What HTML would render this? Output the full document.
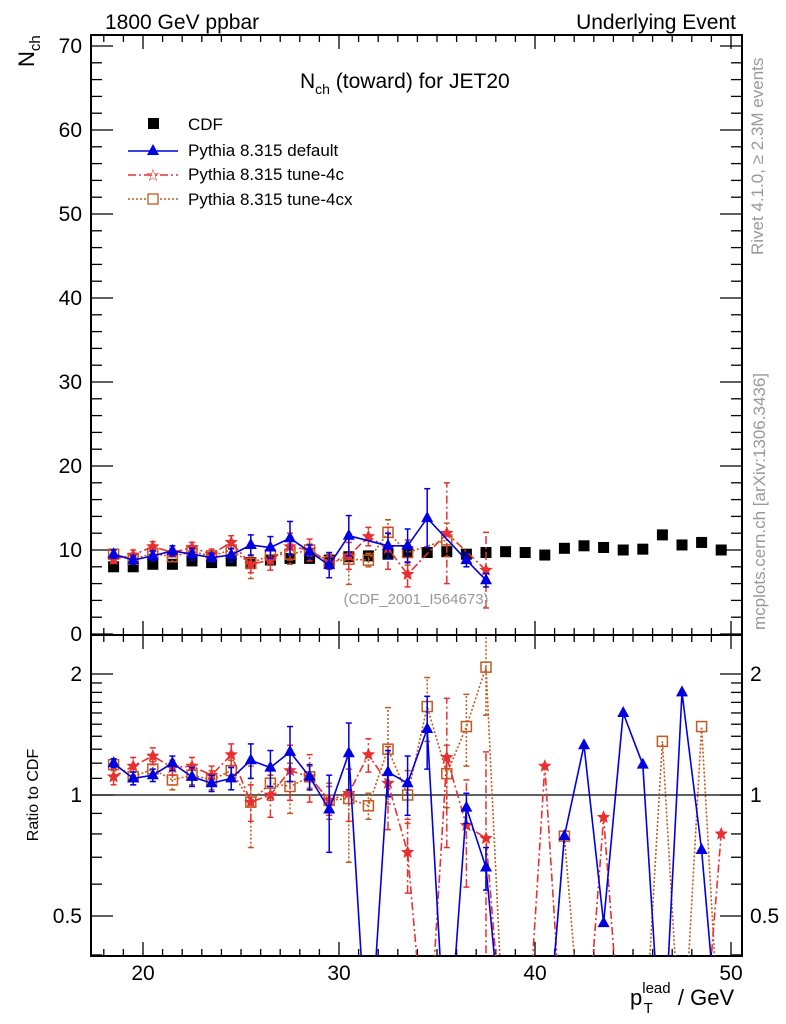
<!DOCTYPE html>
<html><head><meta charset="utf-8"><style>
html,body{margin:0;padding:0;background:#fff;overflow:hidden;}
svg{display:block;font-family:"Liberation Sans",sans-serif;}
</style></head><body>
<svg id="chart" width="786" height="1024" viewBox="0 0 786 1024">
<defs>
<clipPath id="clipMain"><rect x="91" y="35" width="651" height="600"/></clipPath>
<clipPath id="clipRatio"><rect x="91" y="635" width="651" height="321"/></clipPath>
</defs>
<g id="axes"></g>
<g id="series"></g>
<text x="105" y="29" font-size="21">1800 GeV ppbar</text>
<text x="736" y="29" font-size="21" text-anchor="end">Underlying Event</text>
<text x="300" y="88" font-size="21">N<tspan font-size="14" dy="6">ch</tspan><tspan dy="-6"> (toward) for JET20</tspan></text>
<text transform="translate(34,67) rotate(-90)" font-size="22">N<tspan font-size="15" dy="6">ch</tspan></text>
<text transform="translate(38,795) rotate(-90)" font-size="16" text-anchor="middle">Ratio to CDF</text>
<text x="630" y="1005" font-size="22">p<tspan font-size="15" dy="-12">lead</tspan><tspan font-size="15" dx="-27" dy="20">T</tspan><tspan font-size="22" dx="19" dy="-8"> / GeV</tspan></text>
<text transform="translate(763,255) rotate(-90)" font-size="17" fill="#999">Rivet 4.1.0, ≥ 2.3M events</text>
<text transform="translate(765,630) rotate(-90)" font-size="17" fill="#999">mcplots.cern.ch [arXiv:1306.3436]</text>
<text x="416" y="604" font-size="15" fill="#999" text-anchor="middle">(CDF_2001_I564673)</text>
<g id="legend">
<g><rect x="148" y="118" width="11" height="11" fill="#000"/><text x="188" y="130" font-size="17">CDF</text></g>
<g><line x1="128" y1="151" x2="178" y2="151" stroke="#0000e0" stroke-width="1.5"/><path d="M153,144 L159,155 L147,155 Z" fill="#0000e0"/><text x="188" y="156" font-size="17">Pythia 8.315 default</text></g>
<g><line x1="128" y1="175" x2="178" y2="175" stroke="#e83030" stroke-width="1.5" stroke-dasharray="8,3,2,3"/><text x="153" y="181" font-size="17" fill="#e83030" text-anchor="middle">☆</text><text x="188" y="180" font-size="17">Pythia 8.315 tune-4c</text></g>
<g><line x1="128" y1="199" x2="178" y2="199" stroke="#c05a20" stroke-width="1.5" stroke-dasharray="2,2"/><rect x="148" y="194" width="10" height="10" fill="#fff" stroke="#c05a20" stroke-width="1.3"/><text x="188" y="205" font-size="17">Pythia 8.315 tune-4cx</text></g>
</g>
</svg>
<script>
// ---- data ----
const binCenters = [18.5,19.5,20.5,21.5,22.5,23.5,24.5,25.5,26.5,27.5,28.5,29.5,30.5,31.5,32.5,33.5,34.5,35.5,36.5,37.5,38.5,39.5,40.5,41.5,42.5,43.5,44.5,45.5,46.5,47.5,48.5,49.5];
const cdfValues = [8.0,8.0,8.3,8.3,8.7,8.5,8.7,8.5,8.8,9.0,9.0,8.8,9.2,9.3,9.5,9.8,9.7,9.8,9.5,9.7,9.8,9.7,9.4,10.2,10.5,10.3,10.0,10.1,11.8,10.6,10.9,10.0];
const mcDefault = [9.5,8.8,9.3,9.9,9.5,9.1,9.4,10.6,10.3,11.4,9.8,8.2,11.7,null,10.5,10.5,13.8,null,8.8,6.4];
const mcDefaultErr = [0.5,0.5,0.6,0.6,0.7,0.5,0.8,1.2,1.3,2.0,0.8,1.5,2.4,0,1.5,2.0,3.5,0,0.8,0.8];
const mc4c = [8.9,9.4,10.4,9.7,10.3,9.5,10.9,8.3,8.8,10.4,10.0,8.5,9.3,11.6,10.2,7.1,null,12.0,null,7.6];
const mc4cErr = [0.5,0.6,0.6,0.5,0.6,0.6,0.8,1.0,1.2,1.6,1.3,0.8,1.6,1.1,2.5,1.5,0,6.0,0,4.5];
const mc4cx = [9.5,8.9,9.6,9.2,9.8,9.3,10.0,8.4,9.4,9.5,10.0,8.6,8.9,8.8,12.1,9.7,null,11.2,null,null];
const mc4cxErr = [0.5,0.5,0.5,0.6,0.6,0.6,0.7,1.8,1.0,1.2,0.7,0.9,3.0,0.8,1.5,1.5,0,2.0,0,0];
const ratioDefault = [1.20,1.10,1.12,1.20,1.11,1.07,1.10,1.22,1.17,1.28,1.11,0.92,1.27,null,1.14,1.07,1.46,null,0.93,0.66,null,null,null,0.79,1.33,0.48,1.60,1.19,null,1.80,0.73,null];
const ratioDefaultErr = [0.03,0.04,0.04,0.05,0.06,0.05,0.07,0.12,0.12,0.2,0.08,0.2,0.24,0,0.15,0.18,0.3,0,0.08,0.08,0,0,0,0,0,0,0,0,0,0,0,0];
const ratio4c = [1.11,1.18,1.25,1.17,1.18,1.12,1.26,0.96,1.00,1.15,1.11,0.97,1.01,1.26,1.07,0.72,null,1.24,0.84,0.78,null,null,1.18,null,null,0.88,null,null,null,null,null,0.80];
const ratio4cErr = [0.05,0.06,0.06,0.05,0.06,0.06,0.08,0.1,0.12,0.18,0.15,0.08,0.15,0.12,0.25,0.15,0,0.5,0.25,0.5,0,0,0,0,0,0,0,0,0,0,0,0];
const ratio4cx = [1.19,1.11,1.16,1.09,1.12,1.09,1.15,0.96,1.07,1.05,1.11,0.97,0.98,0.94,1.30,1.00,1.66,1.13,1.48,2.08,null,null,null,0.79,null,null,null,null,1.36,null,1.48,null];
const ratio4cxErr = [0.04,0.05,0.05,0.06,0.06,0.06,0.07,0.22,0.1,0.15,0.07,0.1,0.3,0.07,0.35,0.15,0.3,0.2,0.3,0.5,0,0,0,0,0,0,0,0,0,0,0,0];
const xTicks = [20,30,40,50];
const yTicks = [0,10,20,30,40,50,60,70];
const rTicks = [0.5,1,2];

// ---- axes functions ----
const X0=91,X1=742,MT=35,MB=635,RB=956;
const xs = v => 143 + (v-20)*19.6;
const ys = v => 634 - v*8.4;
const yr = r => 795 - 121*Math.log2(r);
const NS='http://www.w3.org/2000/svg';
function mk(tag, attrs, parent){
  const e=document.createElementNS(NS,tag);
  for(const k in attrs) e.setAttribute(k,attrs[k]);
  parent.appendChild(e); return e;
}
const axes=document.getElementById('axes');
const ser=document.getElementById('series');

let f=mk('rect',{x:X0,y:MT,width:X1-X0,height:MB-MT,fill:'none',stroke:'#000','stroke-width':2},axes);


f=mk('rect',{x:X0,y:MB,width:X1-X0,height:RB-MB,fill:'none',stroke:'#000','stroke-width':2},axes);



for(let v=18; v<=50; v++){
  const x=xs(v), L = (v%10===0)?14:7;
  for(const [y0,dir] of [[MT,1],[MB,-1],[MB,1],[RB,-1]]){
    mk('line',{x1:x,y1:y0,x2:x,y2:y0+dir*L,stroke:'#000','stroke-width':1.3},axes);
  }
}
xTicks.forEach(v=>{
  const t=mk('text',{x:xs(v),y:980,'font-size':21,'text-anchor':'middle'},axes);
  t.textContent=v;
  
  
});
for(let v=0; v<=70; v+=2){
  const y=ys(v), L=(v%10===0)?22:11;
  mk('line',{x1:X0,y1:y,x2:X0+L,y2:y,stroke:'#000','stroke-width':1.3},axes);
  mk('line',{x1:X1,y1:y,x2:X1-L,y2:y,stroke:'#000','stroke-width':1.3},axes);
}
yTicks.forEach(v=>{
  const t=mk('text',{x:82,y:ys(v)+7,'font-size':21,'text-anchor':'end'},axes);
  t.textContent=v;
  
  
});
const rMinor=[0.4,0.5,0.6,0.7,0.8,0.9,1,1.1,1.2,1.3,1.4,1.5,1.6,1.7,1.8,1.9,2];
rMinor.forEach(r=>{
  const y=yr(r); const L=(r===0.5||r===1||r===2)?22:11;
  if(y<MB||y>RB) return;
  mk('line',{x1:X0,y1:y,x2:X0+L,y2:y,stroke:'#000','stroke-width':1.3},axes);
  mk('line',{x1:X1,y1:y,x2:X1-L,y2:y,stroke:'#000','stroke-width':1.3},axes);
});
rTicks.forEach(r=>{
  let t=mk('text',{x:82,y:yr(r)+7,'font-size':21,'text-anchor':'end'},axes);
  t.textContent=r;
  
  
  t=mk('text',{x:750,y:yr(r)+7,'font-size':21},axes);
  t.textContent=r;
  
  
});
const one=mk('line',{x1:X0,y1:yr(1),x2:X1,y2:yr(1),stroke:'#000','stroke-width':1.3},axes);



function star(cx,cy,R){
  let p='';
  for(let i=0;i<10;i++){const a=-Math.PI/2+i*Math.PI/5, rr=i%2?R*0.45:R; p+=(i?'L':'M')+(cx+rr*Math.cos(a)).toFixed(1)+','+(cy+rr*Math.sin(a)).toFixed(1);}
  return p+'Z';
}
function marker(kind,x,y,g){
  let m;
  if(kind==='tri') m=mk('path',{d:`M${x},${y-7}L${x+6},${y+4}L${x-6},${y+4}Z`,fill:'#0000e0'},g);
  else if(kind==='star') m=mk('path',{d:star(x,y,7),fill:'#e83030'},g);
  else m=mk('rect',{x:x-5,y:y-5,width:10,height:10,fill:'none',stroke:'#c05a20','stroke-width':1.5},g);
  return m;
}
function drawSeries(name,vals,errs,yfun,col,dash,kind,clip,lowVal){
  const g=mk('g',{'clip-path':`url(#${clip})`},ser);
  
  
  let d='';
  vals.forEach((v,i)=>{
    const val = v===null ? lowVal : v;
    if(val===undefined) return;
    d += (d?'L':'M')+xs(binCenters[i]).toFixed(1)+','+yfun(val).toFixed(1);
  });
  const ln=mk('path',{d:d,fill:'none',stroke:col,'stroke-width':1.6,'stroke-dasharray':dash},g);
  
  
  vals.forEach((v,i)=>{
    if(v===null) return;
    const x=xs(binCenters[i]), y=yfun(v), e=errs[i]||0;
    if(e>0){
      const lo=Math.max(v-e,0.01);
      mk('line',{x1:x,y1:yfun(lo),x2:x,y2:yfun(v+e),stroke:col,'stroke-width':1.5,'stroke-dasharray':dash},g);
      mk('line',{x1:x-3,y1:yfun(lo),x2:x+3,y2:yfun(lo),stroke:col,'stroke-width':1.5},g);
      mk('line',{x1:x-3,y1:yfun(v+e),x2:x+3,y2:yfun(v+e),stroke:col,'stroke-width':1.5},g);
    }
    const m=marker(kind,x,y,g);
    
    
  });
}
function mainSeries(name,vals,errs,col,dash,kind){
  drawSeries(name,vals,errs,ys,col,dash,kind,'clipMain',undefined);
}
const gc=mk('g',{'clip-path':'url(#clipMain)'},ser);


cdfValues.forEach((v,i)=>{
  const r=mk('rect',{x:xs(binCenters[i])-5.5,y:ys(v)-5.5,width:11,height:11,fill:'#000'},gc);
  
  
});
mainSeries('main-tune-4cx',mc4cx,mc4cxErr,'#c05a20','2,2','sq');
mainSeries('main-tune-4c',mc4c,mc4cErr,'#e83030','8,3,2,3','star');
mainSeries('main-default',mcDefault,mcDefaultErr,'#0000e0','none','tri');
drawSeries('ratio-tune-4cx',ratio4cx,ratio4cxErr,yr,'#c05a20','2,2','sq','clipRatio',0.2);
drawSeries('ratio-tune-4c',ratio4c,ratio4cErr,yr,'#e83030','8,3,2,3','star','clipRatio',0.2);
drawSeries('ratio-default',ratioDefault,ratioDefaultErr,yr,'#0000e0','none','tri','clipRatio',0.2);
</script>
</body></html>
